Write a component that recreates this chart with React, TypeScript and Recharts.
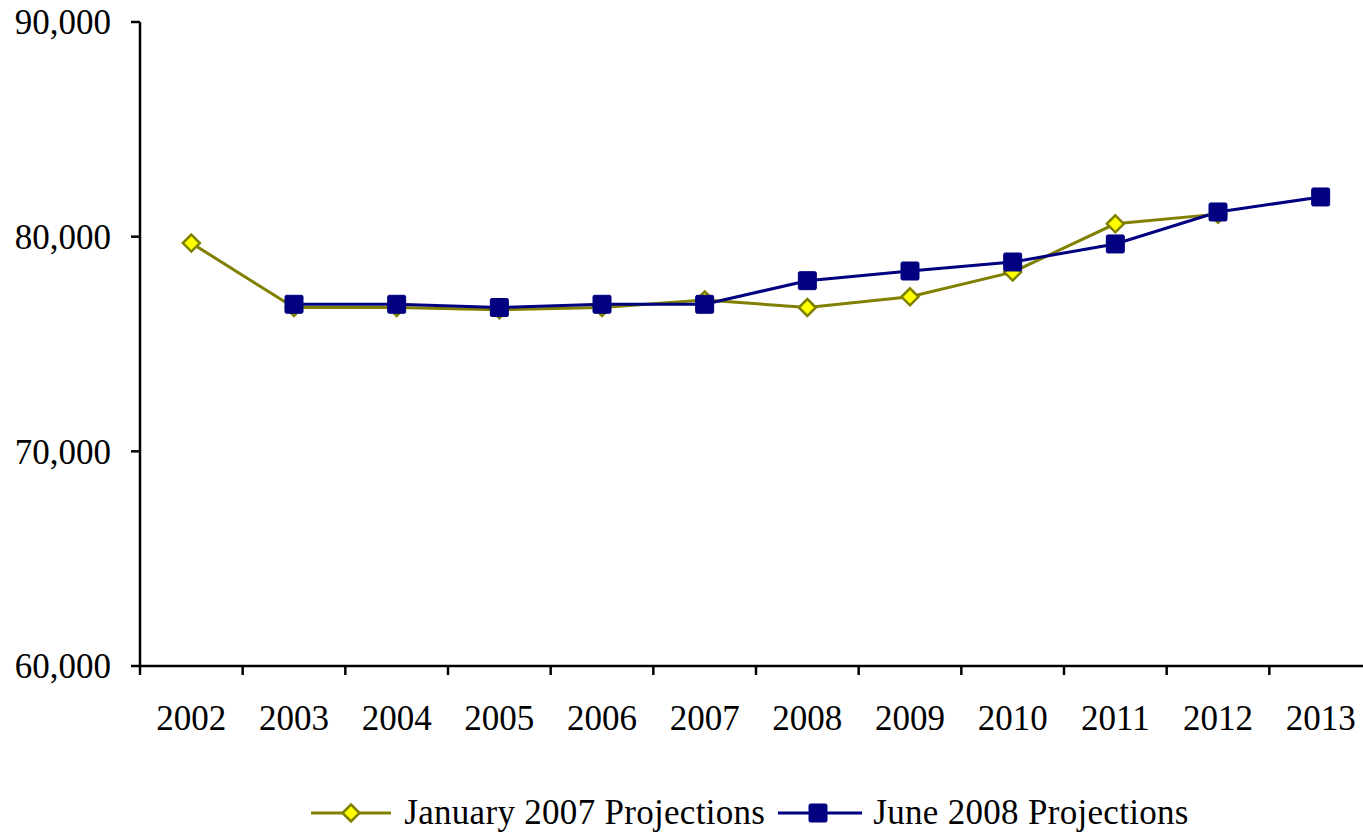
import React from 'react';
import { LineChart, Line, XAxis, YAxis, Legend } from 'recharts';

const CATEGORIES = ['2002', '2003', '2004', '2005', '2006', '2007', '2008', '2009', '2010', '2011', '2012', '2013'];
const JAN_2007 = [79700, 76700, 76700, 76600, 76700, 77050, 76700, 77200, 78350, 80600, 81050, null];
const JUNE_2008 = [null, 76850, 76850, 76700, 76850, 76850, 77950, 78400, 78820, 79660, 81150, 81850];
const Y_TICKS = [60000, 70000, 80000, 90000];
const SERIES_NAMES = ['January 2007 Projections', 'June 2008 Projections'];

const data = CATEGORIES.map((year, i) => ({ year, jan: JAN_2007[i], june: JUNE_2008[i] }));

const CHART_W = 1385;
const CHART_H = 833;
const MARGIN = { top: 22, right: 13, left: 0, bottom: 0 };
const Y_W = 140;
const PLOT_W = CHART_W - MARGIN.left - MARGIN.right - Y_W;
const BAND = PLOT_W / CATEGORIES.length;
const FONT = '"Liberation Serif", "Times New Roman", serif';
const OLIVE = '#808000';
const NAVY = '#000080';
const YELLOW = '#FFFF00';

const Diamond = ({ cx, cy }: { cx: number; cy: number }) => (
  <polygon
    points={`${cx},${cy - 8.5} ${cx + 8.5},${cy} ${cx},${cy + 8.5} ${cx - 8.5},${cy}`}
    fill={YELLOW}
    stroke={OLIVE}
    strokeWidth={2.5}
  />
);

const Square = ({ cx, cy }: { cx: number; cy: number }) => (
  <rect x={cx - 9} y={cy - 9} width={18} height={18} rx={1.5} fill={NAVY} stroke={NAVY} strokeWidth={1} />
);

const renderDiamond = (props: any) => {
  const { cx, cy, index } = props;
  if (cx == null || cy == null || props.value == null) return <g key={`d-${index}`} />;
  return <g key={`d-${index}`}><Diamond cx={cx} cy={cy} /></g>;
};

const renderSquare = (props: any) => {
  const { cx, cy, index } = props;
  if (cx == null || cy == null || props.value == null) return <g key={`s-${index}`} />;
  return <g key={`s-${index}`}><Square cx={cx} cy={cy} /></g>;
};

const XTick = (props: any) => {
  const { x, y, payload, index } = props;
  const last = index === CATEGORIES.length - 1;
  return (
    <g>
      <line x1={x - BAND / 2} x2={x - BAND / 2} y1={y} y2={y + 9} stroke="#000" strokeWidth={2.5} />
      {last && <line x1={x + BAND / 2} x2={x + BAND / 2} y1={y} y2={y + 9} stroke="#000" strokeWidth={2.5} />}
      <text x={x} y={y + 64} textAnchor="middle" fontFamily={FONT} fontSize={35} fill="#000">
        {payload.value}
      </text>
    </g>
  );
};

const LegendContent = () => (
  <div
    style={{
      display: 'flex',
      justifyContent: 'center',
      alignItems: 'center',
      fontFamily: FONT,
      fontSize: 35,
      color: '#000',
      height: 40,
    }}
  >
    <svg width={80} height={24}>
      <line x1={0} x2={80} y1={12} y2={12} stroke={OLIVE} strokeWidth={3} />
      <Diamond cx={40} cy={12} />
    </svg>
    <span style={{ marginLeft: 13, marginRight: 13, whiteSpace: 'nowrap', letterSpacing: 0.3 }}>{SERIES_NAMES[0]}</span>
    <svg width={84} height={24}>
      <line x1={0} x2={84} y1={12} y2={12} stroke={NAVY} strokeWidth={3} />
      <Square cx={40} cy={12} />
    </svg>
    <span style={{ marginLeft: 11, whiteSpace: 'nowrap', letterSpacing: 0.3 }}>{SERIES_NAMES[1]}</span>
  </div>
);

export default function App() {
  return (
    <div style={{ position: 'absolute', left: 0, top: 0, width: 1363, height: 833, overflow: 'hidden', background: '#fff' }}>
      <LineChart width={CHART_W} height={CHART_H} data={data} margin={MARGIN}>
        <XAxis
          dataKey="year"
          height={127}
          padding={{ left: BAND / 2, right: BAND / 2 }}
          axisLine={{ stroke: '#000', strokeWidth: 2.5 }}
          tickLine={false}
          tickSize={0}
          tickMargin={0}
          tick={<XTick />}
          interval={0}
        />
        <YAxis
          width={Y_W}
          domain={[60000, 90000]}
          ticks={Y_TICKS}
          allowDataOverflow
          axisLine={{ stroke: '#000', strokeWidth: 2.5 }}
          tickLine={{ stroke: '#000', strokeWidth: 2.5 }}
          tickSize={9}
          tickMargin={20}
          tick={{ fontFamily: FONT, fontSize: 35, fill: '#000' }}
          tickFormatter={(v: number) => v.toLocaleString('en-US')}
        />
        <Legend
          verticalAlign="bottom"
          content={<LegendContent />}
          wrapperStyle={{ left: 0, width: 1500, height: 40, bottom: 0 }}
        />
        <Line
          type="linear"
          dataKey="jan"
          name={SERIES_NAMES[0]}
          stroke={OLIVE}
          strokeWidth={3}
          dot={renderDiamond}
          activeDot={false}
          isAnimationActive={false}
        />
        <Line
          type="linear"
          dataKey="june"
          name={SERIES_NAMES[1]}
          stroke={NAVY}
          strokeWidth={3}
          dot={renderSquare}
          activeDot={false}
          isAnimationActive={false}
        />
      </LineChart>
    </div>
  );
}
